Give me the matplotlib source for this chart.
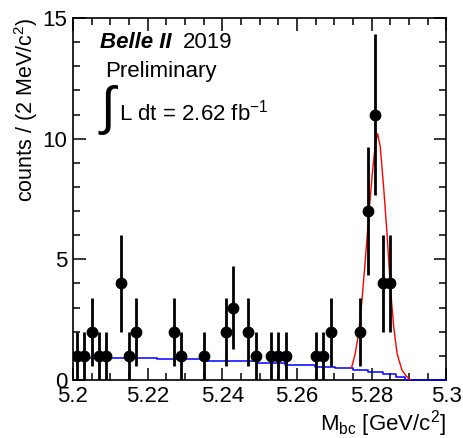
import numpy as np
import matplotlib
matplotlib.use("Agg")
import matplotlib.pyplot as plt
from matplotlib.ticker import MultipleLocator

plt.rcParams['font.family'] = ['Liberation Sans', 'DejaVu Sans']
plt.rcParams['mathtext.fontset'] = 'custom'
plt.rcParams['mathtext.rm'] = 'Liberation Sans'
plt.rcParams['mathtext.it'] = 'Liberation Sans:italic'

# data points (bin centres, 2 MeV bins)
mbc = [5.201, 5.203, 5.205, 5.207, 5.209, 5.213, 5.215, 5.217, 5.227, 5.229,
       5.235, 5.241, 5.243, 5.247, 5.249, 5.253, 5.255, 5.257, 5.265, 5.267,
       5.269, 5.277, 5.279, 5.281, 5.283, 5.285]
counts = [1, 1, 2, 1, 1, 4, 1, 2, 2, 1,
          1, 2, 3, 2, 1, 1, 1, 1, 1, 1,
          2, 2, 7, 11, 4, 4]

# background (blue, stepped)
bkg_x = [5.200, 5.2225, 5.2358, 5.2493, 5.2568, 5.2649, 5.2702, 5.2751,
         5.2790, 5.2830, 5.2865, 5.2890, 5.300]
bkg_y = [0.93, 0.86, 0.79, 0.72, 0.62, 0.55, 0.50, 0.42,
         0.33, 0.24, 0.12, 0.0, 0.0]

# total fit (red)
fit_x = [5.2744, 5.2747, 5.2756, 5.2765, 5.2774, 5.2783, 5.2792, 5.2801, 5.2810,
         5.2816, 5.2823, 5.2832, 5.2841, 5.2850, 5.2859, 5.2868, 5.2881,
         5.2894, 5.2903]
fit_y = [0.50, 0.55, 1.1, 1.93, 3.3, 4.97, 6.77, 8.43, 9.81,
         10.2, 9.67, 8.0, 6.08, 3.87, 2.21, 1.1, 0.41,
         0.14, 0.0]

err = np.sqrt(counts)

fig = plt.figure(figsize=(4.64, 4.38), dpi=100)
ax = fig.add_axes([0.157, 0.1324, 0.805, 0.8266])

ax.step(bkg_x, bkg_y, where='post', color='blue', lw=1.1, zorder=3, clip_on=False)
ax.plot(fit_x, fit_y, color='red', lw=1.0, zorder=3)
ax.errorbar(mbc, counts, yerr=err, fmt='o', color='black', ms=7.5, elinewidth=2,
            capsize=0, zorder=4)

ax.set_xlim(5.2, 5.3)
ax.set_ylim(0, 15)
ax.xaxis.set_major_locator(MultipleLocator(0.02))
ax.xaxis.set_minor_locator(MultipleLocator(0.005))
ax.yaxis.set_major_locator(MultipleLocator(5))
ax.yaxis.set_minor_locator(MultipleLocator(1))
ax.set_xticks([5.2, 5.22, 5.24, 5.26, 5.28, 5.3])
ax.set_xticklabels(['5.2', '5.22', '5.24', '5.26', '5.28', '5.3'])
ax.tick_params(which='both', direction='in', top=True, right=True, labelsize=16, width=1.1)
ax.tick_params(which='major', length=9)
ax.tick_params(which='minor', length=5)
ax.tick_params(axis='x', pad=4)
ax.tick_params(axis='y', pad=4)
for s in ax.spines.values():
    s.set_linewidth(1.2)

ax.set_ylabel('counts / (2 MeV/c$^2$)', fontsize=15.5, loc='top', labelpad=2)
ax.set_xlabel(r'M$_{\mathrm{bc}}$ [GeV/c$^2$]', fontsize=16, loc='right', labelpad=1)

ax.text(0.072, 0.931, 'Belle II', transform=ax.transAxes, fontsize=16,
        fontweight='bold', style='italic', va='center')
ax.text(0.295, 0.931, '2019', transform=ax.transAxes, fontsize=16, va='center')
ax.text(0.086, 0.851, 'Preliminary', transform=ax.transAxes, fontsize=16, va='center')
ax.text(0.068, 0.745, r'$\int$', transform=ax.transAxes, fontsize=38, va='center')
ax.text(0.123, 0.738, 'L dt = 2.62 fb$^{-1}$', transform=ax.transAxes, fontsize=16,
        va='center')

fig.savefig('out.png', dpi=100)
